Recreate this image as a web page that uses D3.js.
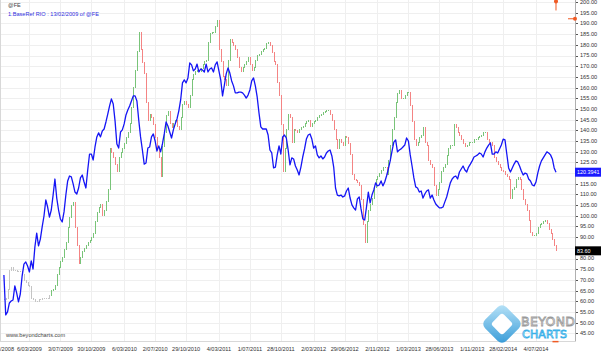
<!DOCTYPE html>
<html><head><meta charset="utf-8">
<script src="https://cdn.jsdelivr.net/npm/d3@7/dist/d3.min.js"></script>
<style>html,body{margin:0;padding:0;background:#fff;}svg{display:block;}</style>
</head><body>
<svg id="c" width="601" height="356"></svg>
<script>
// ---- data ----
const seriesStart = "2008-11-28"; // first weekly bar (Fridays)
const tickDates = ["2008-11-14","2009-03-06","2009-07-03","2009-10-30","2010-03-06","2010-07-02","2010-10-29","2011-03-04","2011-07-01","2011-10-28","2012-03-02","2012-06-29","2012-11-02","2013-03-01","2013-06-28","2013-11-01","2014-02-28","2014-07-04"];
const tickLabels = ["14/11/2008","6/03/2009","3/07/2009","30/10/2009","6/03/2010","2/07/2010","29/10/2010","4/03/2011","1/07/2011","28/10/2011","2/03/2012","29/06/2012","2/11/2012","1/03/2013","28/06/2013","1/11/2013","28/02/2014","4/07/2014"];
const yTicks = [45,50,55,60,65,70,75,80,85,90,95,100,105,110,115,120,125,130,135,140,145,150,155,160,165,170,175,180,185,190,195,200];
// FE weekly closes
const feClose = [60.6,61.5,65.3,74.6,75.6,74.6,74.6,73.7,73.7,73.7,72.3,69.9,68.6,67.2,66.7,61.5,60.6,59.7,60.1,60.6,
60.6,61.1,61.1,61.5,61.5,62.9,64.8,65.3,67.6,72.3,76.0,78.4,80.7,84.0,87.3,94.3,99.0,104.6,106.0,94.3,
86.3,77.9,80.3,83.1,84.9,86.3,87.3,88.2,89.6,91.9,97.1,101.3,104.1,105.1,99.9,102.7,106.5,112.1,131.7,129.4,
127.1,123.8,120.5,127.5,129.4,131.3,133.6,136.4,138.8,143.0,150.5,159.8,168.2,176.7,185.6,177.6,171.5,166.8,152.8,144.8,
147.2,146.2,142.5,136.4,130.8,127.5,118.2,132.2,139.2,146.7,148.6,143.0,141.1,143.0,144.8,141.6,140.2,146.2,151.9,153.7,
152.3,150.5,156.5,163.6,165.9,167.3,168.2,167.3,168.7,170.6,172.0,172.9,181.3,185.1,185.6,186.0,188.4,191.2,177.6,172.0,
165.4,163.6,161.2,172.9,182.3,181.3,179.9,177.6,174.3,169.2,167.3,169.6,171.0,172.0,173.9,171.0,168.2,169.6,172.9,174.8,
175.7,176.7,177.6,178.5,180.4,180.9,179.5,176.2,172.0,170.6,162.6,156.5,142.5,120.5,131.7,140.2,147.2,145.8,134.5,140.2,
139.7,139.2,140.2,141.1,142.0,143.0,143.9,144.4,142.0,143.0,143.9,144.8,145.8,146.7,147.6,148.1,148.6,149.1,149.5,147.6,
144.8,140.2,135.5,131.7,135.5,134.5,132.7,136.9,136.4,133.6,128.5,119.1,116.8,116.3,115.8,114.4,107.4,95.7,87.3,97.1,
102.7,105.1,108.3,113.0,116.8,118.6,120.0,121.0,122.4,122.8,119.1,126.1,133.1,140.2,145.8,152.8,157.0,158.4,154.7,155.1,
156.1,157.5,157.9,151.4,143.9,135.5,133.1,134.5,136.4,137.8,141.1,134.5,133.1,126.1,123.8,122.4,114.4,109.7,112.1,115.8,
120.5,122.4,123.8,128.0,131.7,133.1,133.1,142.5,141.1,138.8,137.8,135.5,133.6,132.2,133.1,134.1,134.1,134.5,135.5,135.9,
136.4,136.9,137.8,138.8,139.2,135.9,134.5,134.1,132.7,127.5,125.2,124.2,122.8,121.0,120.5,119.1,118.2,116.8,108.3,112.1,
113.0,116.8,117.7,116.8,112.1,107.4,105.1,102.7,98.0,92.4,90.6,90.6,91.9,94.3,95.7,96.6,97.1,98.0,96.2,93.8,
91.5,88.7,85.9,83.6];
const feGreyUntil = "2009-05-29"; // bars before this are drawn grey
// RIO relative to FE (base 13/02/2009), weekly
const rioRel = [72.3,53.6,55.0,59.2,60.1,60.6,67.2,63.9,59.7,63.4,71.8,77.4,78.4,76.5,73.7,78.9,75.1,85.4,91.9,85.9,
89.1,94.8,99.9,107.4,104.1,99.4,102.7,109.7,117.2,108.3,102.7,98.5,97.1,101.8,109.7,116.3,118.6,118.2,114.9,111.1,
110.2,113.0,117.7,119.1,115.8,113.0,121.4,128.9,128.9,126.1,132.2,136.9,138.8,136.9,139.7,140.6,143.9,147.6,151.4,154.7,
152.3,144.4,133.6,131.7,139.2,140.2,143.0,147.2,149.5,151.4,153.7,156.1,156.1,153.7,144.8,136.9,130.8,124.2,124.7,131.7,
132.2,136.9,138.3,135.0,130.3,132.7,129.9,133.6,138.3,143.9,142.0,139.2,136.4,140.2,143.0,145.3,149.1,154.2,162.2,163.6,
162.2,164.5,171.5,170.6,167.8,168.7,171.0,167.3,168.7,168.2,167.3,171.0,167.3,168.7,169.2,167.3,170.6,172.0,167.8,163.6,
156.1,161.2,166.4,169.2,166.8,163.1,160.8,157.5,157.5,157.9,157.9,157.5,156.5,155.1,156.5,158.9,163.1,164.5,160.8,155.6,
148.1,141.6,140.6,140.6,140.6,137.8,130.8,129.4,122.4,122.8,128.5,132.7,128.9,136.9,137.8,136.4,130.8,123.8,127.1,126.6,
123.3,121.4,119.1,122.8,127.5,131.3,135.9,137.8,138.3,135.9,131.7,132.7,128.5,127.1,128.0,126.6,127.5,129.4,130.3,130.8,
128.0,122.8,113.0,109.7,109.3,109.7,108.8,109.3,111.6,113.0,108.3,105.1,103.7,102.7,107.9,108.8,103.2,98.5,98.0,104.1,
111.1,106.0,109.7,112.1,115.4,114.0,114.4,116.3,114.0,115.8,118.6,121.9,125.7,130.3,134.5,135.5,129.9,130.8,131.3,132.2,
133.1,136.4,135.0,128.5,123.3,117.7,113.5,113.0,111.1,111.6,108.3,110.2,111.6,112.1,108.3,109.7,107.4,105.5,104.6,103.7,
103.7,104.1,106.5,108.8,112.1,115.4,117.2,118.2,118.6,117.2,120.5,121.9,123.3,121.4,120.5,122.8,124.2,125.7,127.5,128.0,
128.5,129.4,128.9,127.5,129.9,131.7,133.1,134.1,128.9,128.9,129.9,129.4,131.3,133.1,135.9,135.5,128.9,122.4,120.5,122.4,
124.2,125.7,125.2,123.3,121.0,119.1,120.0,119.6,117.2,116.3,114.4,114.0,115.8,120.0,123.3,125.7,127.1,128.5,129.9,129.4,
128.5,126.6,122.4,120.3941];
const lastRio = "120.3941", lastFe = "83.60";
const titleLine1 = "@FE";
const titleLine2 = "1.BaseRef RIO : 13/02/2009  of @FE";
const footer = "www.beyondcharts.com";
// off-scale markers (date, value)
const markers = [{d:"2014-09-19", v:200.3, kind:"v"}, {d:"2014-12-01", v:192.2, kind:"h"}, {d:"2014-09-17", v:41.1, kind:"b"}];

// ---- drawing ----
const W = 601, H = 356, plotR = 575, plotB = 341.5;
const svg = d3.select("#c");
const parse = d3.utcParse("%Y-%m-%d");
const x = d3.scaleUtc().domain([Date.UTC(2008,10,13), Date.UTC(2014,11,1)]).range([0, plotR]);
const y = d3.scaleLinear().domain([45, 200]).range([333.3, 2.1]);
const t0 = parse(seriesStart);
const dates = d3.range(feClose.length).map(i => d3.utcDay.offset(t0, 7*i));
const greyEnd = parse(feGreyUntil);
const FONT = "Liberation Sans, Arial, sans-serif";
const FS = 5.6;

svg.append("rect").attr("width", W).attr("height", H).attr("fill", "#fff");

// grid
const grid = svg.append("g");
grid.selectAll("line.h").data(yTicks).join("line")
  .attr("x1", 0).attr("x2", plotR)
  .attr("y1", d => Math.round(y(d)) + 0.5).attr("y2", d => Math.round(y(d)) + 0.5)
  .attr("stroke", "#efefef").attr("stroke-width", 1);
grid.selectAll("line.v").data(tickDates).join("line")
  .attr("x1", d => Math.round(x(parse(d))) + 0.5).attr("x2", d => Math.round(x(parse(d))) + 0.5)
  .attr("y1", 0).attr("y2", plotB)
  .attr("stroke", "#efefef").attr("stroke-width", 1);

// frame
svg.append("line").attr("x1", 0.5).attr("x2", 0.5).attr("y1", 0).attr("y2", plotB).attr("stroke", "#d8d8d8");
svg.append("line").attr("x1", 0).attr("x2", plotR).attr("y1", plotB).attr("y2", plotB).attr("stroke", "#d8d8d8");

// logo (behind data)
const defs = svg.append("defs");
const lg = defs.append("linearGradient").attr("id", "lg").attr("x1", "0").attr("y1", "0").attr("x2", "1").attr("y2", "1");
lg.append("stop").attr("offset", "0").attr("stop-color", "#b5e2f8");
lg.append("stop").attr("offset", "1").attr("stop-color", "#1e8fd3");
const logo = svg.append("g").attr("transform", "translate(502,324)");
logo.append("rect").attr("x", -15).attr("y", -15).attr("width", 30).attr("height", 30).attr("rx", 6)
  .attr("transform", "rotate(45)").attr("fill", "url(#lg)").attr("opacity", 0.9);
logo.append("rect").attr("x", -8).attr("y", -8).attr("width", 16).attr("height", 16).attr("rx", 3)
  .attr("transform", "rotate(45)").attr("fill", "#fff");
svg.append("text").attr("x", 521).attr("y", 326).text("BEYOND")
  .attr("font-family", "DejaVu Sans, sans-serif").attr("font-size", 12.5).attr("fill", "#fff")
  .attr("stroke", "#9a9a9a").attr("stroke-width", 0.8).attr("textLength", 54);
svg.append("text").attr("x", 522).attr("y", 338).text("CHARTS")
  .attr("font-family", "DejaVu Sans, sans-serif").attr("font-size", 11).attr("fill", "#fff")
  .attr("stroke", "#3ab0e8").attr("stroke-width", 0.8).attr("textLength", 45);

// FE bars
const bars = svg.append("g").attr("shape-rendering", "crispEdges");
const barData = feClose.map((c, i) => ({d: dates[i], c, p: i > 0 ? feClose[i-1] : c}));
bars.selectAll("line").data(barData).join("line")
  .attr("x1", d => Math.round(x(d.d)) + 0.5).attr("x2", d => Math.round(x(d.d)) + 0.5)
  .attr("y1", d => y(Math.max(d.c, d.p)) - 0.5).attr("y2", d => y(Math.min(d.c, d.p)) + 0.5)
  .attr("stroke", d => d.d < greyEnd ? "#c4c4c4" : (d.c >= d.p ? "#79c479" : "#f48484"))
  .attr("stroke-width", 1);

// RIO relative line
svg.append("path").datum(rioRel)
  .attr("d", d3.line().x((v, i) => x(dates[i])).y(v => y(v)))
  .attr("fill", "none").attr("stroke", "#1515f5").attr("stroke-width", 1.3).attr("stroke-linejoin", "round");

// last-value tags
const tags = [{v: +lastRio, label: lastRio, bg: "#1a1aff"}, {v: feClose[feClose.length-1], label: lastFe, bg: "#000"}];

// right axis
const visibleTicks = yTicks.filter(t => tags.every(g => Math.abs(y(t) - y(g.v)) > 5));
const axisG = svg.append("g").attr("transform", `translate(${plotR},0)`);
axisG.append("line").attr("x1", 0.5).attr("x2", 0.5).attr("y1", 0).attr("y2", plotB).attr("stroke", "#b0b0b0");
axisG.selectAll("line.t").data(yTicks).join("line")
  .attr("x1", 1).attr("x2", 3).attr("y1", d => Math.round(y(d)) + 0.5).attr("y2", d => Math.round(y(d)) + 0.5)
  .attr("stroke", "#555");
axisG.selectAll("text").data(visibleTicks).join("text")
  .attr("x", 5).attr("y", d => y(d)).attr("dy", "0.35em")
  .text(d => d3.format(".2f")(d))
  .attr("font-family", FONT).attr("font-size", FS).attr("fill", "#333");

tags.forEach(t => {
  const g = svg.append("g").attr("transform", `translate(${plotR},${y(t.v)})`);
  g.append("rect").attr("x", 0).attr("y", -4.5).attr("width", 26).attr("height", 9).attr("fill", t.bg);
  g.append("text").attr("x", 2).attr("y", 0).attr("dy", "0.35em").text(t.label)
    .attr("font-family", FONT).attr("font-size", 5.4).attr("fill", "#fff");
});

// markers
const mk = svg.append("g");
markers.forEach(m => {
  const mx = x(parse(m.d)), my = y(m.v);
  if (m.kind === "v") {
    mk.append("line").attr("x1", mx).attr("x2", mx).attr("y1", my).attr("y2", my + 9).attr("stroke", "#f05a24");
    mk.append("circle").attr("cx", mx).attr("cy", my).attr("r", 2).attr("fill", "#f05a24");
  } else if (m.kind === "h") {
    mk.append("line").attr("x1", mx - 7).attr("x2", mx).attr("y1", my).attr("y2", my).attr("stroke", "#f05a24");
    mk.append("circle").attr("cx", mx).attr("cy", my).attr("r", 2).attr("fill", "#f05a24");
  } else {
    mk.append("line").attr("x1", mx - 3).attr("x2", mx + 3).attr("y1", my).attr("y2", my).attr("stroke", "#f05a24").attr("stroke-width", 1.5);
  }
});

// bottom axis labels
svg.append("g").selectAll("text").data(tickDates).join("text")
  .attr("x", (d) => x(parse(d))).attr("y", 350.5).attr("text-anchor", "middle")
  .text((d, i) => tickLabels[i])
  .attr("font-family", FONT).attr("font-size", FS).attr("fill", "#333");

// titles
svg.append("text").attr("x", 8).attr("y", 7).text(titleLine1)
  .attr("font-family", FONT).attr("font-size", FS).attr("fill", "#444");
svg.append("text").attr("x", 8).attr("y", 16).text(titleLine2)
  .attr("font-family", FONT).attr("font-size", FS).attr("fill", "#3030e0");
svg.append("text").attr("x", 6).attr("y", 337).text(footer)
  .attr("font-family", FONT).attr("font-size", FS).attr("fill", "#444");
</script>
</body></html>
